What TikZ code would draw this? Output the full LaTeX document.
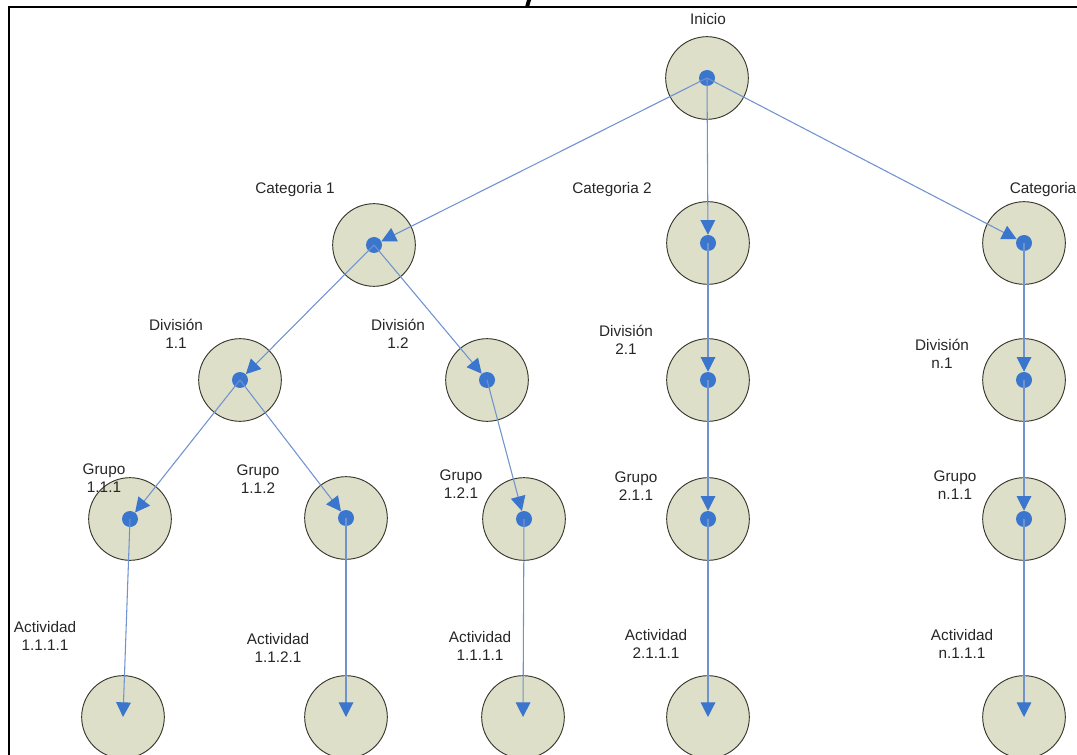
\documentclass[tikz,border=0pt]{standalone}
\usepackage{fontspec}
\setmainfont{Liberation Sans}
\usepackage{xcolor}
\usetikzlibrary{arrows.meta, positioning}
\definecolor{ringfill}{RGB}{221,223,201}
\definecolor{ringline}{RGB}{55,55,45}
\definecolor{dotblue}{RGB}{58,118,205}
\definecolor{linkblue}{RGB}{112,146,206}
\tikzset{
  x=0.75pt, y=-0.75pt, % work in pixels, y grows downwards
  every node/.style={font=\fontsize{11.5}{13}\selectfont, text=black!85},
}

\begin{document}
\begin{tikzpicture}[
    ring/.style = {draw=ringline, fill=ringfill, circle, line width=0.7pt, minimum size=62pt, inner sep=0pt},
    hub/.style = {fill=dotblue, circle, minimum size=12pt, inner sep=0pt},
    link/.style = {draw=linkblue, line width=0.8pt, -{Triangle[length=11pt, width=11pt, color=dotblue]}},
    lbl/.style = {align=center, inner sep=0pt}
  ]
    \useasboundingbox (0,0) rectangle (1077,755);

    % frame of the page and the cut title
    \draw[line width=2pt] (9,755) -- (9,7) -- (1077,7);
    \fill (527,0) -- (531,0) -- (529,7) -- (525,7) -- cycle;

    % the circles
    \node[ring] (ini) at (707,78) {};
    \node[ring] (cat1) at (374,245) {};
    \node[ring] (cat2) at (708,243) {};
    \node[ring] (catn) at (1024,243) {};
    \node[ring] (div11) at (240,380) {};
    \node[ring] (div12) at (487,380) {};
    \node[ring] (div21) at (708,380) {};
    \node[ring] (divn1) at (1024,380) {};
    \node[ring] (gr111) at (130,519) {};
    \node[ring] (gr112) at (346,518) {};
    \node[ring] (gr121) at (524,519) {};
    \node[ring] (gr211) at (708,519) {};
    \node[ring] (grn11) at (1024,519) {};
    \node[ring] (act1) at (123,717) {};
    \node[ring] (act2) at (346,717) {};
    \node[ring] (act3) at (523,717) {};
    \node[ring] (act4) at (708,717) {};
    \node[ring] (act5) at (1024,717) {};

    % blue hubs in the middle
    \foreach \n in {ini,cat1,cat2,catn,div11,div12,div21,divn1,gr111,gr112,gr121,gr211,grn11}
      \node[hub] (\n-h) at (\n) {};

    % labels
    \node[lbl] (l-ini) at (708,19) {Inicio};
    \node[lbl] (l-cat1) at (295,190) {Categoria 1};
    \node[lbl] (l-cat2) at (612,190) {Categoria 2};
    \node[lbl] (l-catn) at (1043,190) {Categoria};
    \node[lbl] (l-div11) at (176,334) {División\\1.1};
    \node[lbl] (l-div12) at (398,334) {División\\1.2};
    \node[lbl] (l-div21) at (626,340) {División\\2.1};
    \node[lbl] (l-divn1) at (942,354) {División\\n.1};
    \node[lbl] (l-gr111) at (104,478) {Grupo\\1.1.1};
    \node[lbl] (l-gr112) at (258,479) {Grupo\\1.1.2};
    \node[lbl] (l-gr121) at (461,484) {Grupo\\1.2.1};
    \node[lbl] (l-gr211) at (636,486) {Grupo\\2.1.1};
    \node[lbl] (l-grn11) at (955,485) {Grupo\\n.1.1};
    \node[lbl] (l-act1) at (45,636) {Actividad\\1.1.1.1};
    \node[lbl] (l-act2) at (278,648) {Actividad\\1.1.2.1};
    \node[lbl] (l-act3) at (480,646) {Actividad\\1.1.1.1};
    \node[lbl] (l-act4) at (656,644) {Actividad\\2.1.1.1};
    \node[lbl] (l-act5) at (962,644) {Actividad\\n.1.1.1};

    % tree
    \draw[link] (ini.center) -- (cat1-h);
    \draw[link] (ini.center) -- (cat2-h);
    \draw[link] (ini.center) -- (catn-h);
    \draw[link] (cat1.center) -- (div11-h);
    \draw[link] (cat1.center) -- (div12-h);
    \draw[link] (cat2.center) -- (div21-h);
    \draw[link] (catn.center) -- (divn1-h);
    \draw[link] (div11.center) -- (gr111-h);
    \draw[link] (div11.center) -- (gr112-h);
    \draw[link] (div12.center) -- (gr121-h);
    \draw[link] (div21.center) -- (gr211-h);
    \draw[link] (divn1.center) -- (grn11-h);
    \draw[link] (gr111.center) -- (act1.center);
    \draw[link] (gr112.center) -- (act2.center);
    \draw[link] (gr121.center) -- (act3.center);
    \draw[link] (gr211.center) -- (act4.center);
    \draw[link] (grn11.center) -- (act5.center);
\end{tikzpicture}
\end{document}
